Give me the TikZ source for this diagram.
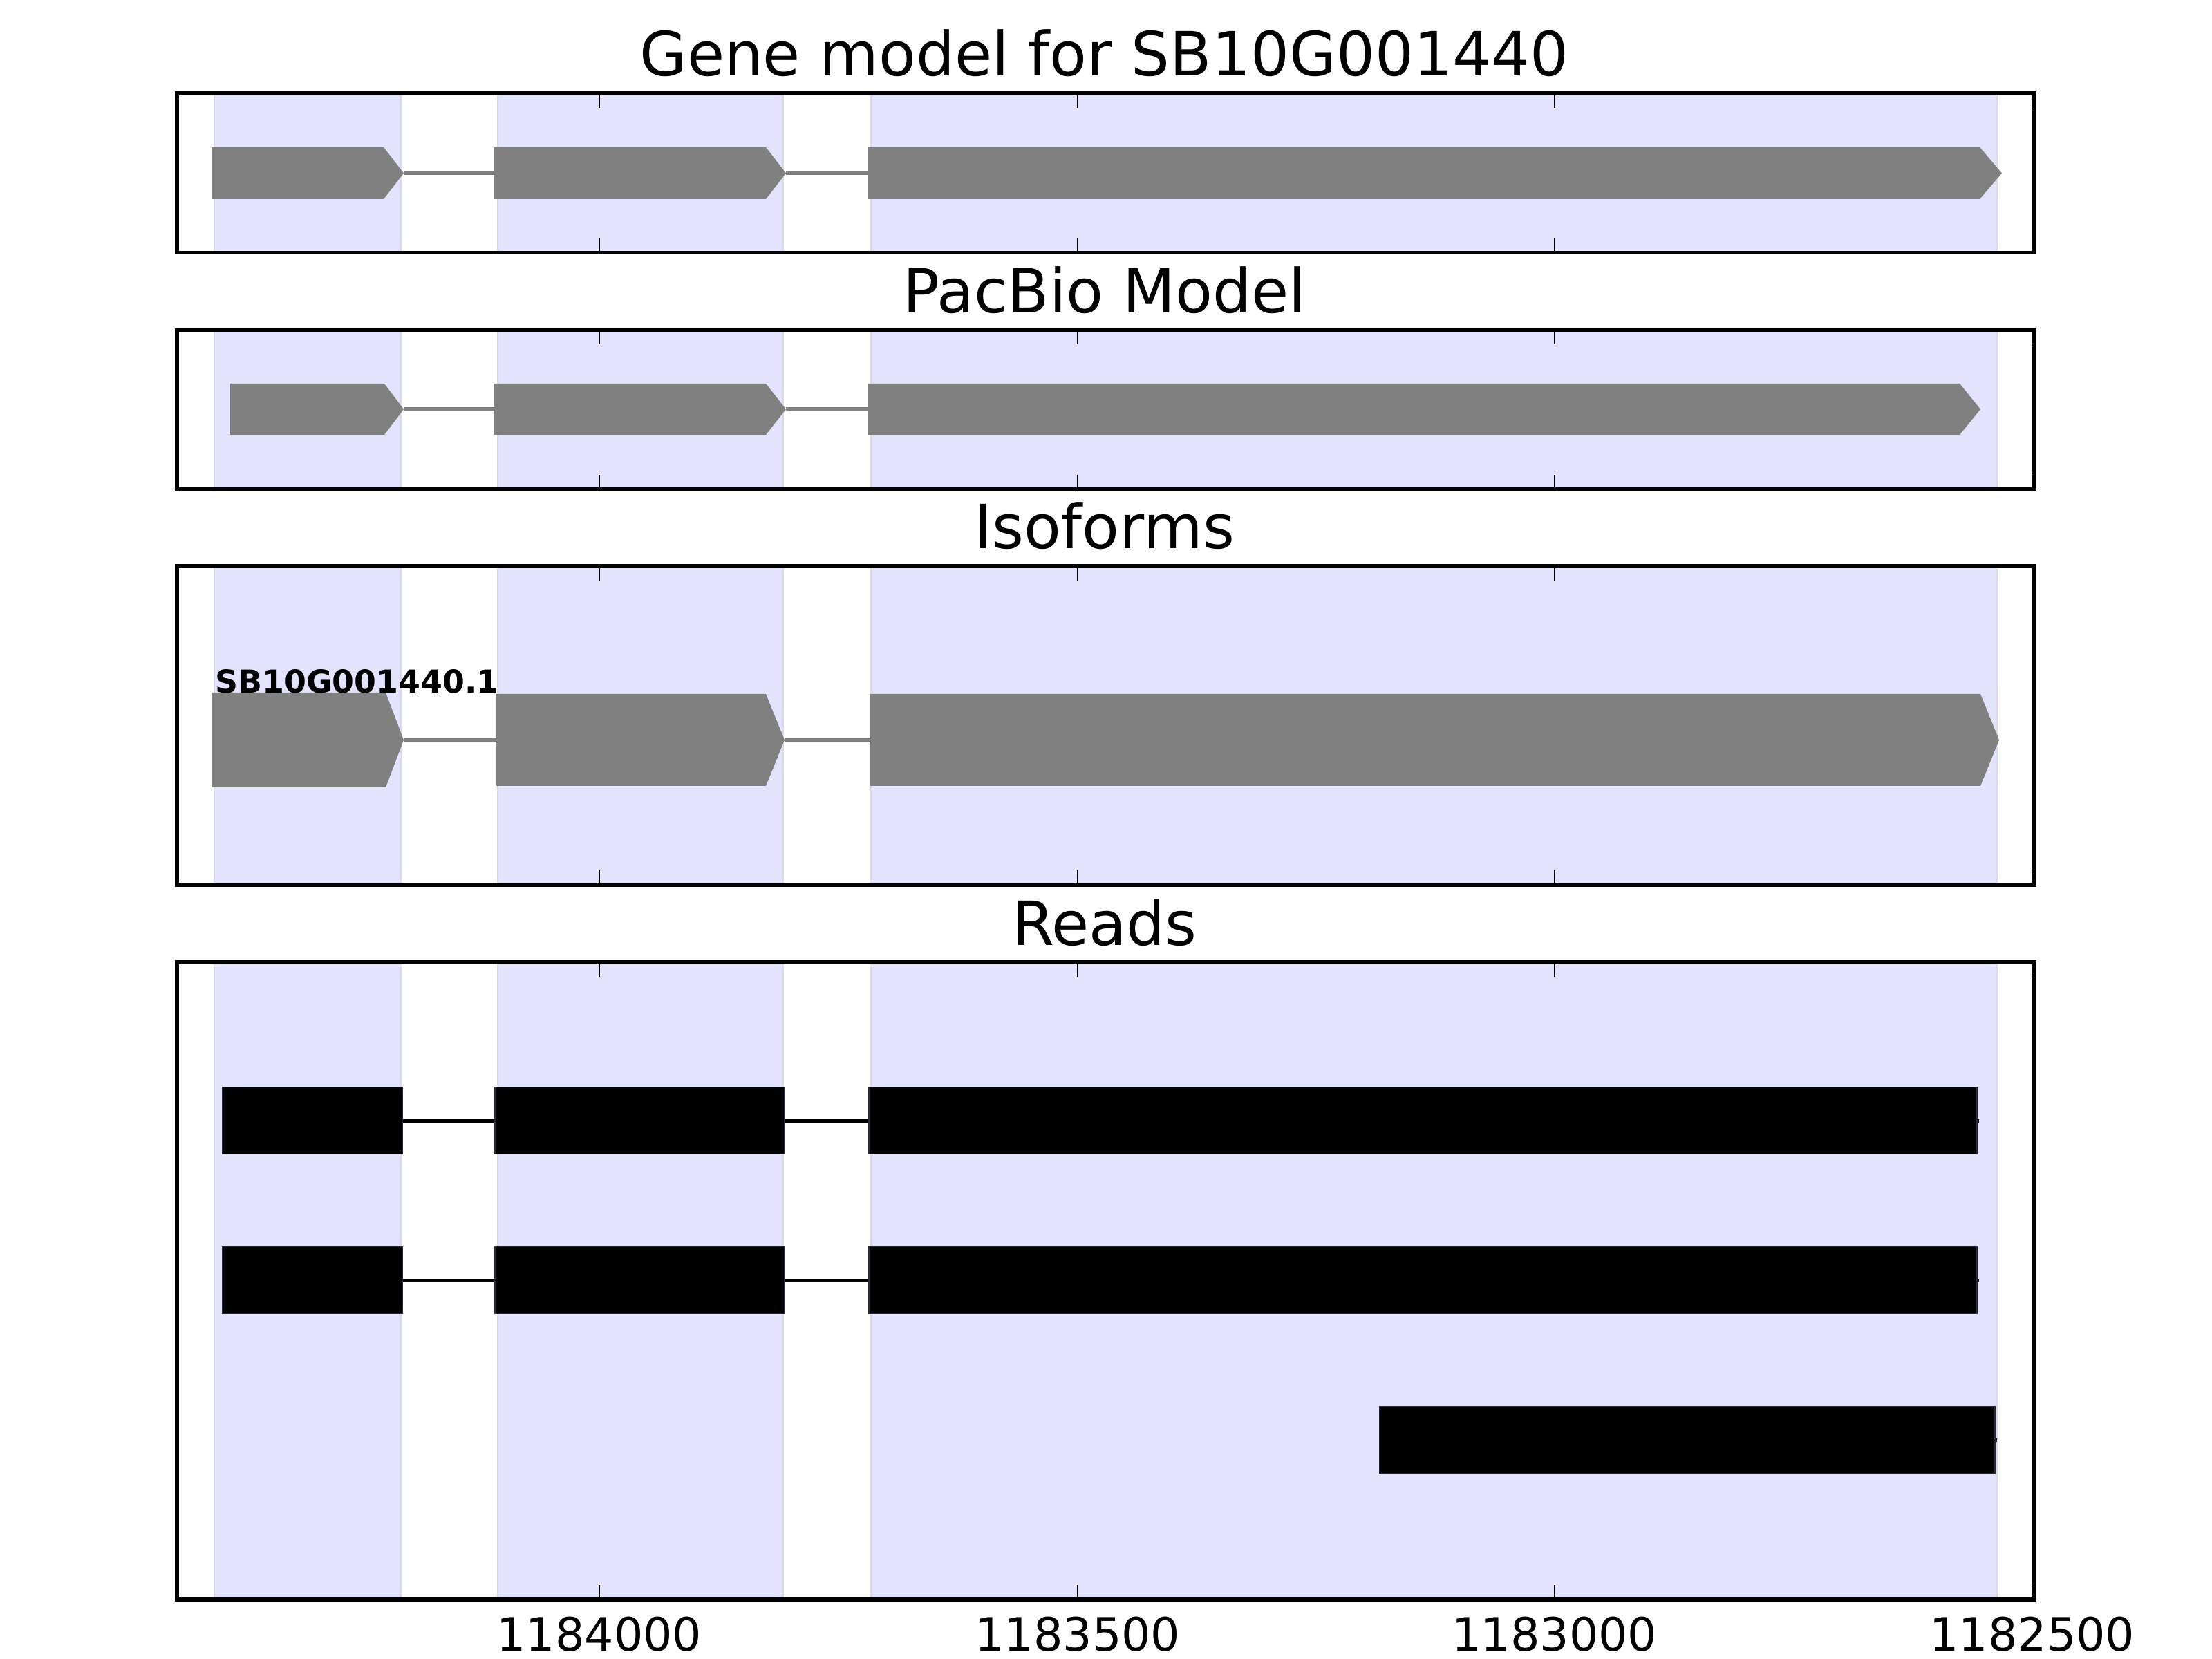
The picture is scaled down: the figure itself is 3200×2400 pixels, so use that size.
\documentclass[tikz,border=0pt]{standalone}
\usepackage{fontspec}
\setmainfont{DejaVu Sans}
\definecolor{shadefill}{RGB}{227,227,254}
\definecolor{shadeedge}{RGB}{218,218,238}
\definecolor{exongray}{RGB}{128,128,128}
\tikzset{
  shade/.style={fill=shadefill, draw=shadeedge, line width=0.4pt},
  exonbox/.style={fill=exongray},
  intron/.style={draw=exongray, line width=0.72pt},
  readbox/.style={fill=black, draw={rgb,255:red,40;green,40;blue,60}, line width=0.2pt},
  readline/.style={draw=black, line width=0.72pt},
  frame/.style={draw=black, line width=0.8pt},
  tickmark/.style={draw=black, line width=0.36pt},
  ptitle/.style={anchor=base, inner sep=0pt, font=\fontsize{12.67pt}{15pt}\selectfont},
  ticklabel/.style={anchor=base, inner sep=0pt, font=\fontsize{9.6pt}{11pt}\selectfont},
  isolabel/.style={anchor=base west, inner sep=0pt, font=\fontsize{6.6pt}{8pt}\selectfont\bfseries}
}
% exon arrow: x0, body end, tip, top, bottom
\newcommand\exarrow[5]{\fill[exonbox] (#1,#4) -- (#2,#4) -- (#3,{(#4+#5)/2}) -- (#2,#5) -- (#1,#5) -- cycle;}
% shaded exon regions for a panel: top, bottom
\newcommand\panelshades[2]{%
  \filldraw[shade] (310,#1) rectangle (580,#2);
  \filldraw[shade] (720,#1) rectangle (1133,#2);
  \filldraw[shade] (1260,#1) rectangle (2889,#2);}
% frame and ticks for a panel: top, bottom
\newcommand\panelframe[2]{%
  \foreach \tx in {867,1559,2249,2940}{
    \draw[tickmark] (\tx,#1) -- (\tx,{#1+21});
    \draw[tickmark] (\tx,#2) -- (\tx,{#2-21});
  }
  \draw[frame] (256,#1) rectangle (2943,#2);}
\begin{document}
\begin{tikzpicture}[x=0.144pt,y=-0.144pt]
\useasboundingbox (0,0) rectangle (3200,2400);
\fill[white] (0,0) rectangle (3200,2400);

% ---------- Panel 1: Gene model ----------
\panelshades{135}{365.5}
\draw[intron] (584,250.5) -- (714.5,250.5);
\draw[intron] (1137,250.5) -- (1256,250.5);
\exarrow{306}{555}{584}{213}{288}
\exarrow{714.5}{1108}{1137}{213}{288}
\exarrow{1256}{2864}{2896}{213}{288}
\panelframe{135}{365.5}
\node[ptitle] (t1) at (1597.5,110) {Gene model for SB10G001440};

% ---------- Panel 2: PacBio ----------
\panelshades{477.5}{708}
\draw[intron] (584,592) -- (714.5,592);
\draw[intron] (1137,592) -- (1256,592);
\exarrow{333}{556}{584}{555}{629}
\exarrow{714.5}{1108}{1137}{555}{629}
\exarrow{1256}{2835}{2865}{555}{629}
\panelframe{477.5}{708}
\node[ptitle] (t2) at (1597.5,452.5) {PacBio Model};

% ---------- Panel 3: Isoforms ----------
\panelshades{819}{1280}
\draw[intron] (584,1070.5) -- (718,1070.5);
\draw[intron] (1135,1070.5) -- (1259,1070.5);
\exarrow{306}{558}{584}{1002}{1139}
\exarrow{718}{1108}{1135}{1004}{1137}
\exarrow{1259}{2865}{2892}{1004}{1137}
\node[isolabel] (iso) at (310,1003) {SB10G001440.1};
\panelframe{819}{1280}
\node[ptitle] (t3) at (1597.5,794) {Isoforms};

% ---------- Panel 4: Reads ----------
\panelshades{1392}{2314}
\foreach \yc in {1621,1852}{
  \draw[readline] (322,\yc) -- (2863,\yc);
  \filldraw[readbox] (322,{\yc-48.5}) rectangle (582,{\yc+48.5});
  \filldraw[readbox] (716,{\yc-48.5}) rectangle (1135,{\yc+48.5});
  \filldraw[readbox] (1257,{\yc-48.5}) rectangle (2860,{\yc+48.5});
}
\draw[readline] (1996,2083) -- (2889,2083);
\filldraw[readbox] (1996,2034.5) rectangle (2886,2131.5);
\panelframe{1392}{2314}
\node[ptitle] (t4) at (1597.5,1367) {Reads};

% ---------- x tick labels ----------
\node[ticklabel] (l1) at (867,2388) {1184000};
\node[ticklabel] (l2) at (1559,2388) {1183500};
\node[ticklabel] (l3) at (2249,2388) {1183000};
\node[ticklabel] (l4) at (2940,2388) {1182500};
\end{tikzpicture}
\end{document}
